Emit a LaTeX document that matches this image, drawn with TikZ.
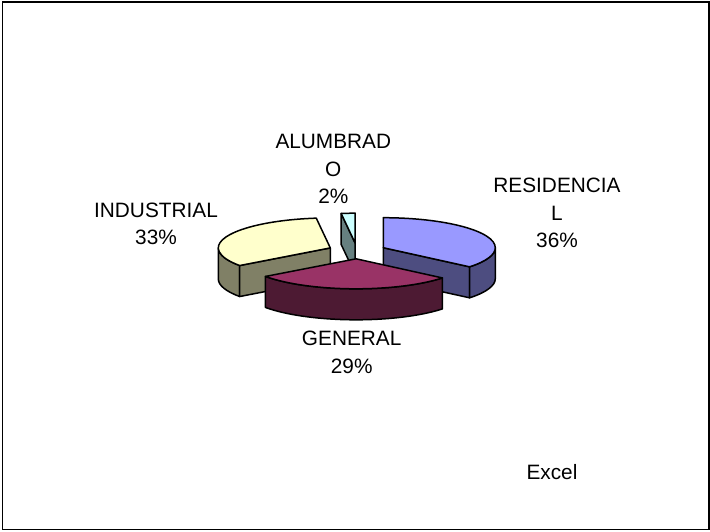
\documentclass[tikz,border=0pt]{standalone}
\usepackage{fontspec}
\setmainfont{Liberation Sans}
\usepackage{tikz}
\usetikzlibrary{calc}

\definecolor{restop}{HTML}{9999FF}
\definecolor{resside}{HTML}{4D4D80}
\definecolor{gentop}{HTML}{993366}
\definecolor{genside}{HTML}{4D1A33}
\definecolor{indtop}{HTML}{FFFFCC}
\definecolor{indside}{HTML}{808066}
\definecolor{alutop}{HTML}{CCFFFF}
\definecolor{aluside}{HTML}{668080}

\begin{document}
\begin{tikzpicture}[x=1pt, y=1pt,
    slice/.style={draw=black, line width=1.5pt, line join=round},
    lbl/.style={align=center, inner sep=0pt, font=\fontsize{20.8pt}{27.5pt}\selectfont},
    rim/.style={x radius=112pt, y radius=30pt}]
    \useasboundingbox (0,0) rectangle (710,-531);

    % Draw the frame
    \draw[line width=1.2pt] (2.5,-2) rectangle (709,-529.5);

    % Centres of the exploded slices
    \coordinate (res) at (383.3,-247.7);
    \coordinate (gen) at (356.1,-258.8);
    \coordinate (ind) at (330.3,-247.9);
    \coordinate (alu) at (355.2,-243.2);

    % Draw the ALUMBRADO slice
    \draw[slice, fill=aluside] (alu) -- ++(97.2:112pt and 30pt) -- ++(0,-31) -- ([yshift=-31pt]alu) -- cycle;
    \draw[slice, fill=alutop] (alu) -- ++(0,30) arc[start angle=90, end angle=97.2, rim] -- cycle;

    % Draw the RESIDENCIAL slice
    \draw[slice, fill=resside] (res) -- ++(-39.6:112pt and 30pt) -- ++(0,-31) -- ([yshift=-31pt]res) -- cycle;
    \draw[slice, fill=resside] ([xshift=112pt]res) arc[start angle=0, end angle=-39.6, rim] -- ++(0,-31) arc[start angle=-39.6, end angle=0, rim] -- cycle;
    \draw[slice, fill=restop] (res) -- ++(0,30) arc[start angle=90, end angle=-39.6, rim] -- cycle;

    % Draw the INDUSTRIAL slice
    \draw[slice, fill=indside] ([xshift=-112pt]ind) arc[start angle=180, end angle=216, rim] -- ++(0,-31) arc[start angle=216, end angle=180, rim] -- cycle;
    \draw[slice, fill=indside] (ind) -- ++(216:112pt and 30pt) -- ++(0,-31) -- ([yshift=-31pt]ind) -- cycle;
    \draw[slice, fill=indtop] (ind) -- ++(97.2:112pt and 30pt) arc[start angle=97.2, end angle=216, rim] -- cycle;

    % Draw the GENERAL slice
    \draw[slice, fill=genside] ($(gen)+(216:112pt and 30pt)$) arc[start angle=216, end angle=320.4, rim] -- ++(0,-31) arc[start angle=320.4, end angle=216, rim] -- cycle;
    \draw[slice, fill=gentop] (gen) -- ++(216:112pt and 30pt) arc[start angle=216, end angle=320.4, rim] -- cycle;

    % Draw the labels
    \node[lbl] (alulbl) at (333.3,-169) {ALUMBRAD\\O\\2\%};
    \node[lbl] (reslbl) at (557,-213) {RESIDENCIA\\L\\36\%};
    \node[lbl] (indlbl) at (156,-224) {INDUSTRIAL\\33\%};
    \node[lbl] (genlbl) at (351.7,-352.5) {GENERAL\\29\%};
    \node[lbl] (src) at (552,-471.7) {Excel};
\end{tikzpicture}
\end{document}
